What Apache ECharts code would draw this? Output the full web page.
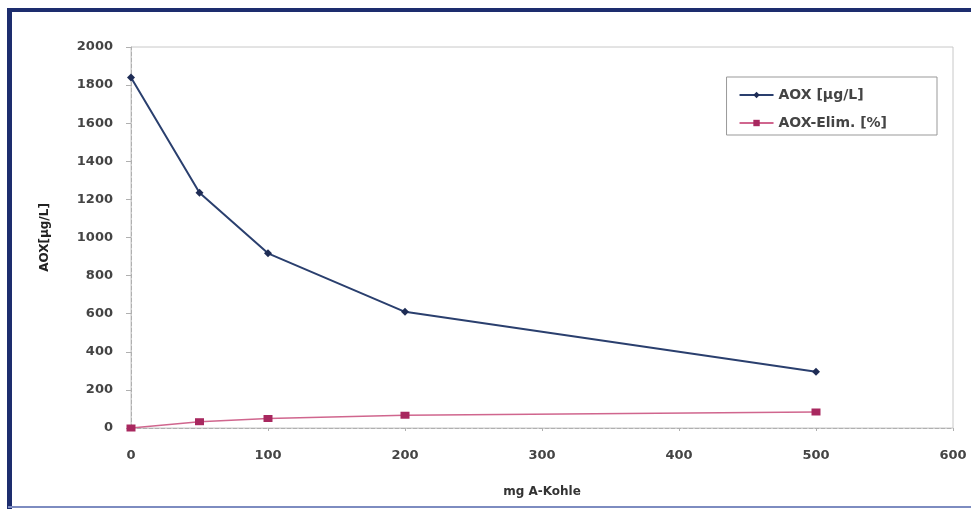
<!DOCTYPE html>
<html>
<head>
<meta charset="utf-8">
<script src="https://cdn.jsdelivr.net/npm/echarts@6/dist/echarts.min.js"></script>
<style>
html,body{margin:0;padding:0;background:#fff;}
#c{width:971px;height:509px;}
</style>
</head>
<body>
<div id="c"></div>
<script>
const xValues = [0, 50, 100, 200, 500];
const aoxValues = [1840, 1235, 917, 610, 295];
const elimValues = [0, 33, 50, 67, 84];
const seriesNames = ['AOX [µg/L]', 'AOX-Elim. [%]'];
const xName = 'mg A-Kohle';
const yName = 'AOX[µg/L]';

const chart = echarts.init(document.getElementById('c'));
const fontFam = '"DejaVu Sans", sans-serif';
chart.setOption({
  backgroundColor: '#fff',
  animation: false,
  graphic: [
    {type:'rect', shape:{x:8, y:8, width:963, height:4}, style:{fill:'#1d2d6e'}, silent:true},
    {type:'rect', shape:{x:7, y:8, width:5, height:501}, style:{fill:'#1d2d6e'}, silent:true},
    {type:'rect', shape:{x:8, y:506, width:963, height:2}, style:{fill:'#7d8cc0'}, silent:true}
  ],
  grid: {left:131, right:18, top:47, bottom:81, show:true, borderColor:'#c8c8c8', borderWidth:1},
  legend: {
    right: 34, top: 77, orient: 'vertical', itemGap: 14,
    padding: [11, 50, 5, 12],
    borderColor: '#999', borderWidth: 1,
    itemWidth: 34, itemHeight: 8,
    textStyle: {fontFamily: fontFam, fontSize: 14, fontWeight: 'bold', color: '#444'},
    data: seriesNames
  },
  xAxis: {
    type: 'value', min: 0, max: 600, interval: 100,
    name: xName, nameLocation: 'middle', nameGap: 58,
    nameTextStyle: {fontFamily: fontFam, fontSize: 12, fontWeight: 'bold', color: '#333'},
    axisLine: {show:true, lineStyle:{color:'#b0b0b0', type:'dashed', width:1}},
    axisTick: {show:true, length:3, lineStyle:{color:'#b0b0b0'}},
    axisLabel: {margin: 21, fontFamily: fontFam, fontSize: 13, fontWeight: 'bold', color: '#444',
      formatter: v => String(v)},
    splitLine: {show:false}
  },
  yAxis: {
    type: 'value', min: 0, max: 2000, interval: 200,
    name: yName, nameLocation: 'middle', nameGap: 80, nameRotate: 90,
    nameTextStyle: {fontFamily: fontFam, fontSize: 12, fontWeight: 'bold', color: '#222'},
    axisLine: {show:true, lineStyle:{color:'#b0b0b0', type:'dashed', width:1}},
    axisTick: {show:true, length:5, lineStyle:{color:'#b0b0b0'}},
    axisLabel: {margin: 18, fontFamily: fontFam, fontSize: 13, fontWeight: 'bold', color: '#444',
      formatter: v => String(v)},
    splitLine: {show:false}
  },
  series: [
    {
      name: seriesNames[0], type: 'line',
      data: xValues.map((x, i) => [x, aoxValues[i]]),
      symbol: 'diamond', symbolSize: 8,
      lineStyle: {color:'#2a3f6e', width:2},
      itemStyle: {color:'#1e2c55'}
    },
    {
      name: seriesNames[1], type: 'line',
      data: xValues.map((x, i) => [x, elimValues[i]]),
      symbol: 'rect', symbolSize: [9, 7],
      lineStyle: {color:'#d0668e', width:1.5},
      itemStyle: {color:'#a8285f'}
    }
  ]
});
</script>
</body>
</html>
